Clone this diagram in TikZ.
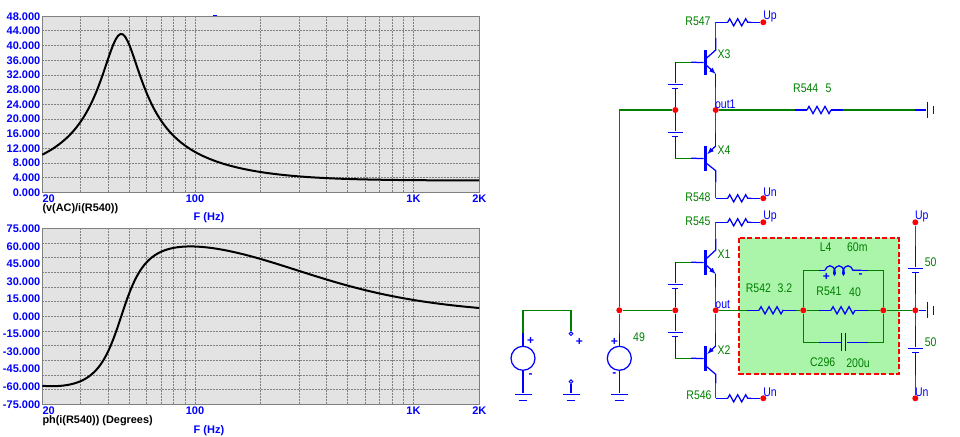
\documentclass[tikz,border=0pt]{standalone}
\usepackage{fontspec}
\setmainfont{Liberation Sans}
\usetikzlibrary{decorations.pathmorphing}
\definecolor{wiregreen}{HTML}{007F00}
\definecolor{boxgreen}{HTML}{AAF5AA}
\definecolor{plotgray}{HTML}{E3E3E3}
\tikzset{
	plotbox/.style={draw=gray,fill=plotgray,line width=1.2pt},
	gridln/.style={draw=gray,line width=1pt,dash pattern=on 1.5pt off 1.5pt},
	curve/.style={black,line width=2pt},
	axlbl/.style={text=blue,inner sep=0pt,font=\bfseries\fontsize{11}{12}\selectfont},
	ttl/.style={text=black,inner sep=0pt,font=\bfseries\fontsize{10.9}{12}\selectfont},
	wire/.style={wiregreen,line width=1.25pt},
	pin/.style={blue,line width=1.25pt},
	res/.style={pin,decorate,decoration={zigzag,amplitude=3.6pt,segment length=8pt}},
	ind/.style={pin,decorate,decoration={coil,aspect=0.6,amplitude=4.5pt,segment length=9pt}},
	dot/.style={circle,fill=red,inner sep=0pt,minimum size=6pt},
	opendot/.style={circle,draw=blue,fill=white,line width=1pt,inner sep=0pt,minimum size=3.6pt},
	tbar/.style={fill=blue,inner sep=0pt,minimum width=3pt,minimum height=25pt},
	plate/.style={fill=blue,inner sep=0pt,minimum height=1.25pt,minimum width=#1},
	source/.style={circle,draw=blue,line width=1.25pt,inner sep=0pt,minimum size=24pt},
	glbl/.style={text=wiregreen,inner sep=0pt,xscale=0.84,font=\fontsize{12.5}{13}\selectfont},
	blbl/.style={text=blue,inner sep=0pt,xscale=0.84,font=\fontsize{12.5}{13}\selectfont},
	sign/.style={text=blue,inner sep=0pt,font=\bfseries\fontsize{12}{12}\selectfont},
}
\begin{document}
\begin{tikzpicture}[x=1pt,y=-1pt,
		declare function={
			qval(\f)=0.050265*\f-106.1/\f;
			zre(\f)=3.2+40/(1+qval(\f)*qval(\f));
			zim(\f)=40*qval(\f)/(1+qval(\f)*qval(\f));
		}]
			\useasboundingbox (0,0) rectangle (960,436);
			\draw[plotbox] (42.3,16.3) rectangle (479.3,192.3);
			\draw[gridln] (80.8,16.3)--(80.8,192.3);
			\draw[gridln] (108.1,16.3)--(108.1,192.3);
			\draw[gridln] (129.2,16.3)--(129.2,192.3);
			\draw[gridln] (146.6,16.3)--(146.6,192.3);
			\draw[gridln] (161.2,16.3)--(161.2,192.3);
			\draw[gridln] (173.9,16.3)--(173.9,192.3);
			\draw[gridln] (185,16.3)--(185,192.3);
			\draw[gridln] (195,16.3)--(195,192.3);
			\draw[gridln] (260.8,16.3)--(260.8,192.3);
			\draw[gridln] (299.3,16.3)--(299.3,192.3);
			\draw[gridln] (326.6,16.3)--(326.6,192.3);
			\draw[gridln] (347.7,16.3)--(347.7,192.3);
			\draw[gridln] (365.1,16.3)--(365.1,192.3);
			\draw[gridln] (379.7,16.3)--(379.7,192.3);
			\draw[gridln] (392.4,16.3)--(392.4,192.3);
			\draw[gridln] (403.5,16.3)--(403.5,192.3);
			\draw[gridln] (413.5,16.3)--(413.5,192.3);
			\draw[gridln] (42.3,31)--(479.3,31);
			\draw[gridln] (42.3,45.6)--(479.3,45.6);
			\draw[gridln] (42.3,60.3)--(479.3,60.3);
			\draw[gridln] (42.3,75)--(479.3,75);
			\draw[gridln] (42.3,89.6)--(479.3,89.6);
			\draw[gridln] (42.3,104.3)--(479.3,104.3);
			\draw[gridln] (42.3,119)--(479.3,119);
			\draw[gridln] (42.3,133.6)--(479.3,133.6);
			\draw[gridln] (42.3,148.3)--(479.3,148.3);
			\draw[gridln] (42.3,163)--(479.3,163);
			\draw[gridln] (42.3,177.6)--(479.3,177.6);
			\draw[curve] plot[domain=0:2,samples=180] ({42.3+218.5*\x},{192.3-3.667*veclen(zre(20*10^\x),zim(20*10^\x))});
			\node[axlbl,anchor=east] (ya48) at (40.5,16.5) {48.000};
			\node[axlbl,anchor=east] (ya44) at (40.5,31.2) {44.000};
			\node[axlbl,anchor=east] (ya40) at (40.5,45.8) {40.000};
			\node[axlbl,anchor=east] (ya36) at (40.5,60.5) {36.000};
			\node[axlbl,anchor=east] (ya32) at (40.5,75.2) {32.000};
			\node[axlbl,anchor=east] (ya28) at (40.5,89.8) {28.000};
			\node[axlbl,anchor=east] (ya24) at (40.5,104.5) {24.000};
			\node[axlbl,anchor=east] (ya20) at (40.5,119.2) {20.000};
			\node[axlbl,anchor=east] (ya16) at (40.5,133.8) {16.000};
			\node[axlbl,anchor=east] (ya12) at (40.5,148.5) {12.000};
			\node[axlbl,anchor=east] (ya8) at (40.5,163.2) {8.000};
			\node[axlbl,anchor=east] (ya4) at (40.5,177.8) {4.000};
			\node[axlbl,anchor=east] (ya0) at (40.5,192.5) {0.000};
			\node[axlbl,anchor=west] (xa20) at (42.3,198.5) {20};
			\node[axlbl] (xa100) at (195,198.5) {100};
			\node[axlbl] (xa1k) at (413.5,198.5) {1K};
			\node[axlbl] (xa2k) at (479.3,198.5) {2K};
			\node[ttl,anchor=west] (ta) at (42.3,208.5) {(v(AC)/i(R540))};
			\node[axlbl] (fa) at (209,218) {F (Hz)};
			\draw[pin] (213,15.3)--(217,15.3);
			\draw[plotbox] (42.3,228.3) rectangle (479.3,404.3);
			\draw[gridln] (80.8,228.3)--(80.8,404.3);
			\draw[gridln] (108.1,228.3)--(108.1,404.3);
			\draw[gridln] (129.2,228.3)--(129.2,404.3);
			\draw[gridln] (146.6,228.3)--(146.6,404.3);
			\draw[gridln] (161.2,228.3)--(161.2,404.3);
			\draw[gridln] (173.9,228.3)--(173.9,404.3);
			\draw[gridln] (185,228.3)--(185,404.3);
			\draw[gridln] (195,228.3)--(195,404.3);
			\draw[gridln] (260.8,228.3)--(260.8,404.3);
			\draw[gridln] (299.3,228.3)--(299.3,404.3);
			\draw[gridln] (326.6,228.3)--(326.6,404.3);
			\draw[gridln] (347.7,228.3)--(347.7,404.3);
			\draw[gridln] (365.1,228.3)--(365.1,404.3);
			\draw[gridln] (379.7,228.3)--(379.7,404.3);
			\draw[gridln] (392.4,228.3)--(392.4,404.3);
			\draw[gridln] (403.5,228.3)--(403.5,404.3);
			\draw[gridln] (413.5,228.3)--(413.5,404.3);
			\draw[gridln] (42.3,243)--(479.3,243);
			\draw[gridln] (42.3,257.6)--(479.3,257.6);
			\draw[gridln] (42.3,272.3)--(479.3,272.3);
			\draw[gridln] (42.3,287)--(479.3,287);
			\draw[gridln] (42.3,301.6)--(479.3,301.6);
			\draw[gridln] (42.3,316.3)--(479.3,316.3);
			\draw[gridln] (42.3,331)--(479.3,331);
			\draw[gridln] (42.3,345.6)--(479.3,345.6);
			\draw[gridln] (42.3,360.3)--(479.3,360.3);
			\draw[gridln] (42.3,375)--(479.3,375);
			\draw[gridln] (42.3,389.6)--(479.3,389.6);
			\draw[curve] plot[domain=0:2,samples=180] ({42.3+218.5*\x},{316.3-1.1733*atan2(zim(20*10^\x),zre(20*10^\x))});
			\node[axlbl,anchor=east] (yb75) at (40.5,228.5) {75.000};
			\node[axlbl,anchor=east] (yb60) at (40.5,246.5) {60.000};
			\node[axlbl,anchor=east] (yb45) at (40.5,263.5) {45.000};
			\node[axlbl,anchor=east] (yb30) at (40.5,281.5) {30.000};
			\node[axlbl,anchor=east] (yb15) at (40.5,298.5) {15.000};
			\node[axlbl,anchor=east] (yb0) at (40.5,316.5) {0.000};
			\node[axlbl,anchor=east] (ybm15) at (40.5,334) {-15.000};
			\node[axlbl,anchor=east] (ybm30) at (40.5,351.5) {-30.000};
			\node[axlbl,anchor=east] (ybm45) at (40.5,369) {-45.000};
			\node[axlbl,anchor=east] (ybm60) at (40.5,386.5) {-60.000};
			\node[axlbl,anchor=east] (ybm75) at (40.5,404.5) {-75.000};
			\node[axlbl,anchor=west] (xb20) at (42.3,410.5) {20};
			\node[axlbl] (xb100) at (195,410.5) {100};
			\node[axlbl] (xb1k) at (413.5,410.5) {1K};
			\node[axlbl] (xb2k) at (479.3,410.5) {2K};
			\node[ttl,anchor=west] (tb) at (42.3,420.5) {ph(i(R540)) (Degrees)};
			\node[axlbl] (fb) at (209,431) {F (Hz)};
			\draw[draw=red,fill=boxgreen,line width=2pt,dash pattern=on 5pt off 2.5pt] (739,238.3) rectangle (899,373.7);
			\node[source] (v1) at (523,358.3) {};
			\node[source] (v2) at (619.3,358.3) {};
			\node[opendot] (sw1) at (571,333.7) {};
			\node[opendot] (sw2) at (571,381.7) {};
			\node[plate=17pt] (g1) at (523,394.3) {};
			\node[plate=8.6pt] (g1s) at (523,400.2) {};
			\node[plate=17pt] (g2) at (571,394.3) {};
			\node[plate=8.6pt] (g2s) at (571,400.2) {};
			\node[plate=17pt] (g3) at (619.3,394.3) {};
			\node[plate=8.6pt] (g3s) at (619.3,400.2) {};
			\coordinate (v1t) at (523,333.3);
			\coordinate (c1) at (523,310.3);
			\coordinate (c2) at (571,310.3);
			\coordinate (v2t) at (619.3,333.3);
			\coordinate (c3) at (619.3,110);
			\draw[wire] (v1t)--(c1)--(c2)--(sw1);
			\draw[pin] (v1t)--(v1);
			\draw[pin] (v1)--(g1);
			\draw[pin] (sw2)--(g2);
			\draw[pin] (v2t)--(v2);
			\draw[pin] (v2)--(g3);
			\node[sign] (p1) at (530.7,341.3) {+};
			\node[sign] (m1) at (530.7,375.3) {-};
			\node[sign] (p2) at (579.3,342.3) {+};
			\node[sign] (p3) at (614.3,342.3) {+};
			\node[sign] (m3) at (614.3,374.3) {-};
			\node[glbl] (n49) at (639,336.7) {49};
			\node[dot] (j1) at (619.3,310.3) {};
			\node[dot] (j2) at (675.3,310.3) {};
			\node[dot] (j3) at (715.7,310.3) {};
			\node[dot] (j4) at (675.3,110) {};
			\node[dot] (j5) at (715.7,110) {};
			\draw[wire] (v2t)--(j1);
			\draw[wire] (j1)--(c3)--(j4);
			\draw[wire] (j1)--(j2);
			\node[tbar] (x3) at (705.3,62.5) {};
			\coordinate (x3b) at (675.3,62.3);
			\coordinate (x3bm) at (691,62.3);
			\coordinate (x3c) at (706.7,58);
			\coordinate (x3k) at (715.7,50);
			\coordinate (x3p) at (715.7,38);
			\coordinate (x3t) at (715.7,22.3);
			\coordinate (x3e) at (706.7,65.5);
			\coordinate (x3a) at (715.7,74);
			\coordinate (x3w) at (715.7,86.7);
			\coordinate (r547a) at (727.7,22.3);
			\coordinate (r547b) at (751,22.3);
			\node[dot] (u1) at (763.3,22.3) {};
			\node[plate=14.5pt] (b1) at (675.3,84.3) {};
			\node[plate=6pt] (b1s) at (675.3,88.6) {};
			\draw[wire] (x3b)--(x3bm);
			\draw[pin] (x3bm)--(x3);
			\draw[pin] (x3b)--(b1);
			\draw[pin] (b1s)--(j4);
			\draw[pin] (x3c)--(x3k)--(x3p);
			\draw[wire] (x3p)--(x3t);
			\draw[pin] (x3t)--(r547a);
			\draw[res] (r547a)--(r547b);
			\draw[pin] (r547b)--(u1);
			\draw[pin,-latex] (x3e)--(x3a);
			\draw[pin] (x3a)--(x3w);
			\draw[wire] (x3w)--(j5);
			\node[tbar] (x4) at (705.3,158.5) {};
			\coordinate (x4b) at (675.3,158.3);
			\coordinate (x4bm) at (691,158.3);
			\coordinate (x4c) at (706.7,163.5);
			\coordinate (x4k) at (715.7,170.7);
			\coordinate (x4p) at (715.7,182.7);
			\coordinate (x4t) at (715.7,198.3);
			\coordinate (x4e) at (715.7,146);
			\coordinate (x4a) at (707.3,154);
			\coordinate (x4w) at (715.7,133.3);
			\coordinate (r548a) at (727.7,198.3);
			\coordinate (r548b) at (751,198.3);
			\node[dot] (d1) at (763.3,198.3) {};
			\node[plate=14.5pt] (b2) at (675.3,132.3) {};
			\node[plate=6pt] (b2s) at (675.3,136.3) {};
			\draw[wire] (x4b)--(x4bm);
			\draw[pin] (x4bm)--(x4);
			\draw[pin] (j4)--(b2);
			\draw[pin] (b2s)--(x4b);
			\draw[pin] (x4c)--(x4k)--(x4p);
			\draw[wire] (x4p)--(x4t);
			\draw[pin] (x4t)--(r548a);
			\draw[res] (r548a)--(r548b);
			\draw[pin] (r548b)--(d1);
			\draw[wire] (j5)--(x4w);
			\draw[pin] (x4w)--(x4e);
			\draw[pin,-latex] (x4e)--(x4a);
			\node[tbar] (x1) at (705.3,262.5) {};
			\coordinate (x1b) at (675.3,262.3);
			\coordinate (x1bm) at (691,262.3);
			\coordinate (x1c) at (706.7,258.3);
			\coordinate (x1k) at (715.7,250);
			\coordinate (x1p) at (715.7,238.3);
			\coordinate (x1t) at (715.7,222.3);
			\coordinate (x1e) at (706.7,265.5);
			\coordinate (x1a) at (715.7,274);
			\coordinate (x1w) at (715.7,286.7);
			\coordinate (r545a) at (727.7,222.3);
			\coordinate (r545b) at (751,222.3);
			\node[dot] (u2) at (763.3,222.3) {};
			\node[plate=14.5pt] (b3) at (675.3,284.3) {};
			\node[plate=6pt] (b3s) at (675.3,288.6) {};
			\draw[wire] (x1b)--(x1bm);
			\draw[pin] (x1bm)--(x1);
			\draw[pin] (x1b)--(b3);
			\draw[pin] (b3s)--(j2);
			\draw[pin] (x1c)--(x1k)--(x1p);
			\draw[wire] (x1p)--(x1t);
			\draw[pin] (x1t)--(r545a);
			\draw[res] (r545a)--(r545b);
			\draw[pin] (r545b)--(u2);
			\draw[pin,-latex] (x1e)--(x1a);
			\draw[pin] (x1a)--(x1w);
			\draw[wire] (x1w)--(j3);
			\node[tbar] (x2) at (705.3,358.5) {};
			\coordinate (x2b) at (675.3,358.3);
			\coordinate (x2bm) at (691,358.3);
			\coordinate (x2c) at (706.7,366.7);
			\coordinate (x2k) at (715.7,374.3);
			\coordinate (x2p) at (715.7,383.3);
			\coordinate (x2t) at (715.7,398.3);
			\coordinate (x2e) at (715.7,345.7);
			\coordinate (x2a) at (707.3,354);
			\coordinate (x2w) at (715.7,333.3);
			\coordinate (r546a) at (727.7,398.3);
			\coordinate (r546b) at (751,398.3);
			\node[dot] (d2) at (763.3,398.3) {};
			\node[plate=14.5pt] (b4) at (675.3,332.3) {};
			\node[plate=6pt] (b4s) at (675.3,336.3) {};
			\draw[wire] (x2b)--(x2bm);
			\draw[pin] (x2bm)--(x2);
			\draw[pin] (j2)--(b4);
			\draw[pin] (b4s)--(x2b);
			\draw[pin] (x2c)--(x2k)--(x2p);
			\draw[wire] (x2p)--(x2t);
			\draw[pin] (x2t)--(r546a);
			\draw[res] (r546a)--(r546b);
			\draw[pin] (r546b)--(d2);
			\draw[wire] (j3)--(x2w);
			\draw[pin] (x2w)--(x2e);
			\draw[pin,-latex] (x2e)--(x2a);
			\coordinate (r544p) at (795,110);
			\coordinate (r544a) at (807,110);
			\coordinate (r544b) at (831,110);
			\coordinate (r544q) at (843.3,110);
			\coordinate (o1) at (915,110);
			\node[plate=16pt,rotate=90] (l1) at (927.3,110) {};
			\node[plate=8.4pt,rotate=90] (l1s) at (933.3,110) {};
			\draw[wire] (j5)--(r544p);
			\draw[pin] (r544p)--(r544a);
			\draw[res] (r544a)--(r544b);
			\draw[pin] (r544b)--(r544q);
			\draw[wire] (r544q)--(o1);
			\draw[pin] (o1)--(l1);
			\node[dot] (j6) at (803.3,310.3) {};
			\node[dot] (j7) at (883.3,310.3) {};
			\node[dot] (j8) at (915.3,310.3) {};
			\node[dot] (u3) at (915.3,222.3) {};
			\node[dot] (d3) at (915.3,398.3) {};
			\coordinate (r542p) at (746.7,310.3);
			\coordinate (r542a) at (759,310.3);
			\coordinate (r542b) at (783.3,310.3);
			\coordinate (r542q) at (796,310.3);
			\coordinate (r541p) at (819,310.3);
			\coordinate (r541a) at (831,310.3);
			\coordinate (r541b) at (855,310.3);
			\coordinate (r541q) at (867.7,310.3);
			\coordinate (ltl) at (803.3,270.3);
			\coordinate (ltp) at (819,270.3);
			\coordinate (lta) at (825,270.3);
			\coordinate (ltb) at (861.7,270.3);
			\coordinate (ltq) at (867.7,270.3);
			\coordinate (ltr) at (883.3,270.3);
			\coordinate (cbl) at (803.3,342.3);
			\coordinate (cbp) at (819,342.3);
			\coordinate (cbq) at (867.7,342.3);
			\coordinate (cbr) at (883.3,342.3);
			\node[plate=18pt,rotate=90] (c1a) at (841.7,342.3) {};
			\node[plate=18pt,rotate=90] (c1b) at (845.7,342.3) {};
			\draw[wire] (j3)--(r542p);
			\draw[pin] (r542p)--(r542a);
			\draw[res] (r542a)--(r542b);
			\draw[pin] (r542b)--(r542q);
			\draw[wire] (r542q)--(j6);
			\draw[wire] (j6)--(r541p);
			\draw[pin] (r541p)--(r541a);
			\draw[res] (r541a)--(r541b);
			\draw[pin] (r541b)--(r541q);
			\draw[wire] (r541q)--(j7);
			\draw[wire] (j6)--(ltl)--(ltp);
			\draw[pin] (ltp)--(lta);
			\draw[ind] (lta)--(ltb);
			\draw[pin] (ltb)--(ltq);
			\draw[wire] (ltq)--(ltr)--(j7);
			\draw[wire] (j6)--(cbl)--(cbp);
			\draw[pin] (cbp)--(c1a);
			\draw[pin] (c1b)--(cbq);
			\draw[wire] (cbq)--(cbr)--(j7);
			\draw[wire] (j7)--(j8);
			\node[sign] (p4) at (826.3,277.3) {+};
			\node[sign] (m4) at (860.7,275.7) {-};
			\coordinate (e1) at (915.3,245.7);
			\coordinate (e2) at (915.3,294.3);
			\coordinate (e3) at (915.3,325.7);
			\coordinate (e4) at (915.3,375);
			\node[plate=14.5pt] (b5) at (915.3,268.3) {};
			\node[plate=6.4pt] (b5s) at (915.3,272.3) {};
			\node[plate=14.5pt] (b6) at (915.3,348.3) {};
			\node[plate=6.4pt] (b6s) at (915.3,352.3) {};
			\node[plate=16pt,rotate=90] (l2) at (927.3,310.3) {};
			\node[plate=8.4pt,rotate=90] (l2s) at (933.3,310.3) {};
			\draw[wire] (u3)--(e1);
			\draw[pin] (e1)--(b5);
			\draw[pin] (b5s)--(e2);
			\draw[wire] (e2)--(e3);
			\draw[pin] (e3)--(b6);
			\draw[pin] (b6s)--(e4);
			\draw[wire] (e4)--(d3);
			\draw[pin] (j8)--(l2);
			\node[glbl] (r547) at (698,21.7) {R547};
			\node[glbl] (r548) at (698,197.3) {R548};
			\node[glbl] (r545) at (698,221.7) {R545};
			\node[glbl] (r546) at (699,395) {R546};
			\node[glbl] (nx3) at (724,54) {X3};
			\node[glbl] (nx4) at (724,150) {X4};
			\node[glbl] (nx1) at (724,254) {X1};
			\node[glbl] (nx2) at (724,350) {X2};
			\node[glbl,anchor=west] (r544) at (793,88) {R544};
			\node[glbl] (r544v) at (828.5,88) {5};
			\node[glbl,anchor=west] (r542) at (745.7,288.3) {R542};
			\node[glbl] (r542v) at (785,288.3) {3.2};
			\node[glbl] (r541) at (829,291.7) {R541};
			\node[glbl] (r541v) at (855,291.7) {40};
			\node[glbl] (nl4) at (825.7,246.7) {L4};
			\node[glbl] (nl4v) at (857.3,246.7) {60m};
			\node[glbl] (c296) at (822.7,361.7) {C296};
			\node[glbl] (c296v) at (858,362.7) {200u};
			\node[glbl] (n50a) at (930.7,262.3) {50};
			\node[glbl] (n50b) at (930.7,342.3) {50};
			\node[blbl] (nu1) at (770,16) {Up};
			\node[blbl] (nd1) at (770,192.3) {Un};
			\node[blbl] (nu2) at (770,216) {Up};
			\node[blbl] (nd2) at (770,392.3) {Un};
			\node[blbl] (nu3) at (921.7,216) {Up};
			\node[blbl] (nd3) at (921.7,392.3) {Un};
			\node[blbl] (out1) at (725.3,104) {out1};
			\node[blbl] (out) at (722.7,304.3) {out};
		\end{tikzpicture}
\end{document}
